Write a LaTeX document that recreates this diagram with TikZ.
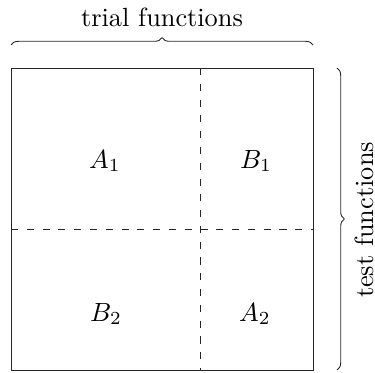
\documentclass[tikz,border=0pt]{standalone}
\usetikzlibrary{decorations.pathreplacing}
\begin{document}
\begin{tikzpicture}[x=0.38pt,y=-0.38pt,
  lbl/.style={inner sep=0pt},
  thinline/.style={line width=0.33pt,draw=black!85},
  bracestyle/.style={thinline,decorate,decoration={brace,amplitude=2.8pt}},
  divider/.style={thinline,dash pattern=on 2.7pt off 3.3pt}]
\useasboundingbox (0,0) rectangle (375,373);
\coordinate (tl) at (11,68);
\coordinate (br) at (313,370);
\draw[thinline] (tl) rectangle (br);
\coordinate (vt) at (200,68);
\coordinate (vb) at (200,370);
\coordinate (hl) at (11,229);
\coordinate (hr) at (313,229);
\draw[divider] (vt) -- (vb);
\draw[divider] (hl) -- (hr);
\node[lbl] (a1) at (105,161) {$A_1$};
\node[lbl] (b1) at (256,161) {$B_1$};
\node[lbl] (b2) at (106,314) {$B_2$};
\node[lbl] (a2) at (255,314) {$A_2$};
\coordinate (tb1) at (11,45);
\coordinate (tb2) at (313,45);
\draw[bracestyle] (tb1) -- (tb2);
\node[lbl] (trial) at (162,17) {trial functions};
\coordinate (rb1) at (337,68);
\coordinate (rb2) at (337,370);
\draw[bracestyle] (rb1) -- (rb2);
\node[lbl,rotate=90] (test) at (364.5,220) {test functions};
\end{tikzpicture}
\end{document}
